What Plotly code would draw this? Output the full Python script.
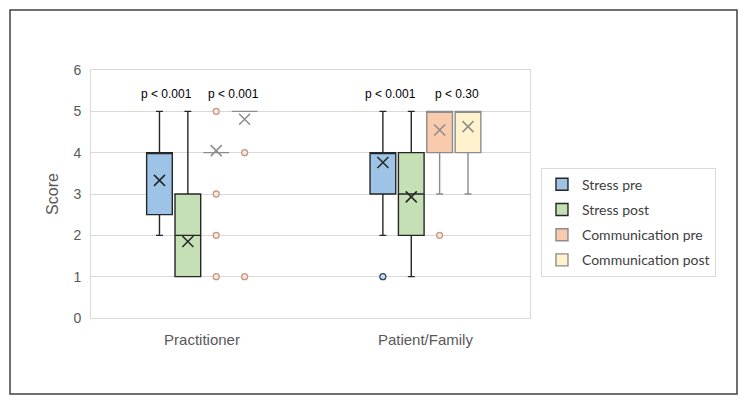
import plotly.graph_objects as go

categories = ["Practitioner", "Patient/Family"]
series = ["Stress pre", "Stress post", "Communication pre", "Communication post"]

# summary statistics per series: [Practitioner, Patient/Family]
q1 = [[2.5, 3], [1, 2], [4, 4], [5, 4]]
median = [[4, 4], [2, 3], [4, 5], [5, 5]]
q3 = [[4, 4], [3, 4], [4, 5], [5, 5]]
lower = [[2, 2], [1, 1], [4, 3], [5, 3]]
upper = [[5, 5], [5, 5], [4, 5], [5, 5]]
means = [[3.33, 3.76], [1.85, 2.93], [4.05, 4.55], [4.81, 4.63]]
outliers = [
    [[], [1]],
    [[], []],
    [[5, 3, 2, 1], [2]],
    [[4, 1], []],
]
p_labels = [["p < 0.001", "p < 0.001"], ["p < 0.001", "p < 0.30"]]  # [category][pair]

fills = ["#9dc3e6", "#c5e0b4", "#f8cbad", "#fff2cc"]
edges = ["#262626", "#262626", "#8c8c8c", "#8c8c8c"]
out_fill = ["#c9def2", "#c5e0b4", "#f6e6dd", "#f6e6dd"]
out_edge = ["#2e4a6b", "#2e4a6b", "#c49a86", "#c49a86"]

step = 0.127
box_w = 0.115

fig = go.Figure()
for k, name in enumerate(series):
    off = (k - 1.5) * step
    xs = [i + off for i in range(len(categories))]
    fig.add_trace(go.Box(
        name=name, x=xs, q1=q1[k], median=median[k], q3=q3[k],
        lowerfence=lower[k], upperfence=upper[k],
        width=box_w, whiskerwidth=0.27,
        fillcolor=fills[k], line=dict(color=edges[k], width=1.4),
        legendgroup=name, showlegend=True, hoverinfo="skip",
    ))
    fig.add_trace(go.Scatter(
        x=xs, y=means[k], mode="markers", legendgroup=name, showlegend=False,
        marker=dict(symbol="x-thin", size=11, line=dict(color=edges[k], width=1.5)),
        hoverinfo="skip",
    ))
    ox, oy = [], []
    for i in range(len(categories)):
        for v in outliers[k][i]:
            ox.append(i + off)
            oy.append(v)
    if ox:
        fig.add_trace(go.Scatter(
            x=ox, y=oy, mode="markers", legendgroup=name, showlegend=False,
            marker=dict(symbol="circle", size=6, color=out_fill[k],
                        line=dict(color=out_edge[k], width=1.3)),
            hoverinfo="skip",
        ))

label_off = [-0.158, 0.14]
for i in range(len(categories)):
    for j in range(2):
        fig.add_annotation(x=i + label_off[j], y=5.42, text=p_labels[i][j],
                           showarrow=False, yanchor="middle",
                           font=dict(family="Liberation Sans", size=12, color="#000000"))

# outer frame
fig.add_shape(type="rect", xref="paper", yref="paper",
              x0=-0.1845, x1=1.4715, y0=-0.3065, y1=1.2419,
              line=dict(color="#404040", width=1.5), layer="below")

fig.update_layout(
    width=740, height=397,
    margin=dict(l=83, r=218, t=62, b=87),
    paper_bgcolor="white", plot_bgcolor="white",
    showlegend=True,
    legend=dict(x=1.025, y=0.606, xanchor="left", yanchor="top",
                bordercolor="#d9d9d9", borderwidth=1, bgcolor="white",
                tracegroupgap=4, traceorder="grouped",
                font=dict(family="Lato, Liberation Sans", size=14, color="#404040")),
    xaxis=dict(range=[-0.497, 1.468], tickvals=[0, 1], ticktext=categories,
               showgrid=False, zeroline=False, showline=True, mirror=True,
               linecolor="#d9d9d9", ticks="outside", ticklen=8, tickcolor="rgba(0,0,0,0)",
               tickfont=dict(family="Liberation Sans", size=15, color="#595959")),
    yaxis=dict(range=[0, 6], dtick=1, showgrid=True, gridcolor="#d9d9d9", gridwidth=1,
               zeroline=False, showline=True, mirror=True, linecolor="#d9d9d9",
               ticks="outside", ticklen=6, tickcolor="rgba(0,0,0,0)",
               tickfont=dict(family="Liberation Sans", size=14, color="#595959"),
               title=dict(text="Score", standoff=10,
                          font=dict(family="Liberation Sans", size=16, color="#595959"))),
)

fig.write_html("out.html")
